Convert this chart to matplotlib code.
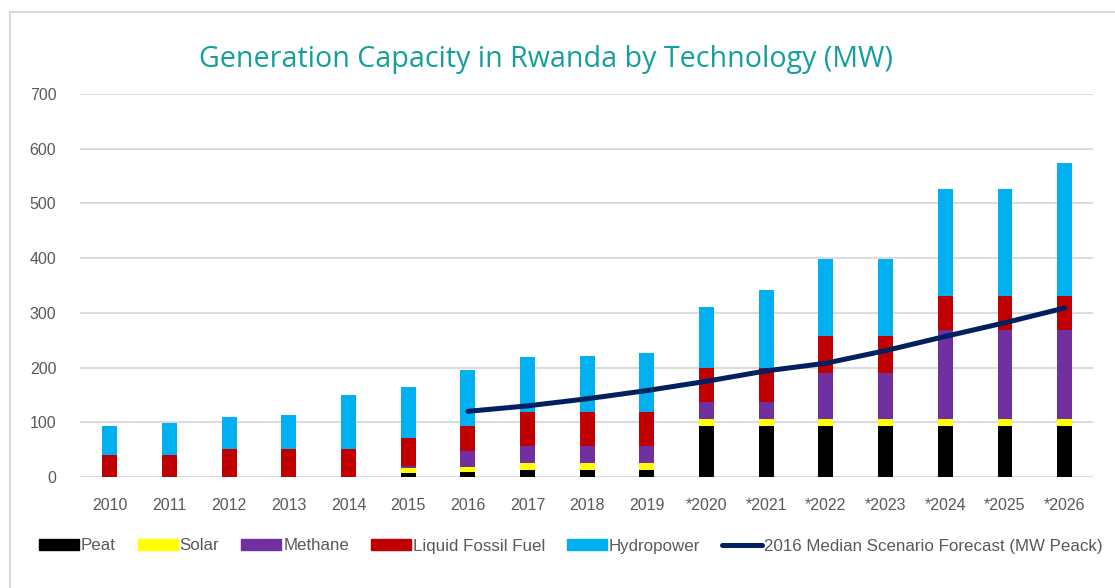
import numpy as np
import matplotlib.pyplot as plt
from matplotlib.patches import Rectangle
from matplotlib.lines import Line2D

# data (MW)
years = ['2010', '2011', '2012', '2013', '2014', '2015', '2016', '2017', '2018', '2019',
         '*2020', '*2021', '*2022', '*2023', '*2024', '*2025', '*2026']
peat = [0, 0, 0, 0, 0, 8, 10, 13, 13, 13, 94, 94, 94, 94, 94, 94, 94]
solar = [0, 0, 0, 0, 0, 9, 8, 12, 12, 12, 12, 12, 12, 12, 12, 12, 12]
methane = [0, 0, 0, 0, 0, 3, 30, 31, 31, 31, 31, 31, 85, 85, 163, 163, 163]
liquid = [40, 40, 52, 52, 52, 51, 46, 62, 62, 62, 62, 62, 66, 66, 61, 61, 61]
hydro = [54, 59, 58, 62, 97, 93, 101, 101, 104, 108, 112, 143, 142, 142, 197, 197, 244]
forecast_years = ['2016', '2017', '2018', '2019', '*2020', '*2021', '*2022', '*2023',
                  '*2024', '*2025', '*2026']
forecast = [120, 130, 143, 158, 175, 194, 208, 231, 257, 282, 309]

series = [('Peat', peat, '#000000'),
          ('Solar', solar, '#FFFF00'),
          ('Methane', methane, '#7030A0'),
          ('Liquid Fossil Fuel', liquid, '#C00000'),
          ('Hydropower', hydro, '#00B0F0')]
line_color = '#002060'
grey = '#595959'

fig = plt.figure(figsize=(11.15, 5.88), dpi=100)
ax = fig.add_axes([0.0717, 0.1888, 0.9083, 0.6512])

x = np.arange(len(years))
bottom = np.zeros(len(years))
handles = []
for name, vals, col in series:
    ax.bar(x, vals, width=0.25, bottom=bottom, color=col, zorder=3)
    bottom += np.array(vals)
    handles.append(Rectangle((0, 0), 1, 1, color=col, label=name))

fx = [years.index(y) for y in forecast_years]
ax.plot(fx, forecast, color=line_color, lw=3.6, solid_capstyle='round', zorder=4)
handles.append(Line2D([], [], color=line_color, lw=3.6, solid_capstyle='round',
                      label='2016 Median Scenario Forecast (MW Peack)'))

ax.set_xlim(-0.5, 16.47)
ax.set_ylim(0, 700)
ax.set_yticks(range(0, 701, 100))
ax.set_xticks(x)
ax.set_xticklabels(years)
ax.grid(axis='y', color='#d9d9d9', lw=1.3, zorder=0)
for s in ax.spines.values():
    s.set_visible(False)
ax.tick_params(length=0, colors=grey, labelsize=11.5)
ax.tick_params(axis='x', pad=15)
ax.tick_params(axis='y', pad=17)
for lab in ax.get_xticklabels() + ax.get_yticklabels():
    lab.set_fontfamily(['Liberation Sans', 'DejaVu Sans'])

fig.text(545.5 / 1115, 1 - 67 / 588, 'Generation Capacity in Rwanda by Technology (MW)',
         ha='center', va='baseline', color='#13A09A', fontsize=20.6,
         family=['Open Sans', 'DejaVu Sans'])

leg = fig.legend(handles=handles, loc='center', bbox_to_anchor=(571 / 1115, 1 - 546 / 588),
                 ncol=6, frameon=False, handlelength=2.35, handleheight=0.6,
                 handletextpad=0.12, columnspacing=1.3,
                 prop={'family': ['Liberation Sans', 'DejaVu Sans'], 'size': 12.2})
for t in leg.get_texts():
    t.set_color(grey)

# light frame around the chart area
fig.patches.append(Rectangle((10 / 1115, -0.05), 1.1, 1 - 12 / 588 + 0.05,
                             transform=fig.transFigure, fill=False,
                             edgecolor='#d9d9d9', lw=1.5))

fig.savefig('out.png', dpi=100)
